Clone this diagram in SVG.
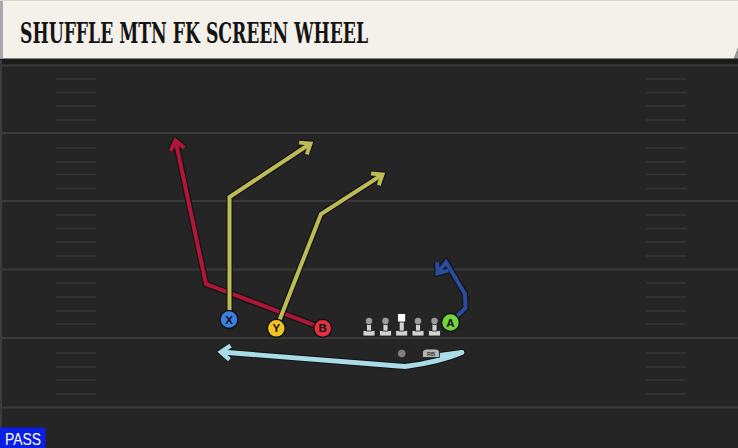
<svg xmlns="http://www.w3.org/2000/svg" width="738" height="448" viewBox="0 0 738 448">
<style>
.yard{stroke:#3a3a3a;stroke-width:2.2}
.hash{stroke:#363636;stroke-width:1.6}
.ol{fill:none;stroke:#141414;stroke-width:6.5;stroke-linejoin:miter;stroke-linecap:butt}
.rt{fill:none;stroke-width:4;stroke-linejoin:miter;stroke-linecap:butt}
.red{stroke:#b01639}
.yel{stroke:#bcbb55}
.blu{stroke:#2a4c9e}
.ltr{font-family:"Liberation Sans",Arial,sans-serif;font-weight:bold;font-size:11.5px;fill:#111;text-anchor:middle}
.pl{fill:#d2d2d2;stroke:#1a1a1a;stroke-width:0.8}
.ph{fill:#9c9c9c;stroke:#1a1a1a;stroke-width:0.8}
.pc{stroke:#141414;stroke-width:1.5}
</style>
<defs>
<marker id="mo" markerUnits="userSpaceOnUse" viewBox="-14 -11 18 22" refX="0" refY="0" markerWidth="18" markerHeight="22" orient="auto">
<path d="M-9,-7 L0,0 L-9,7" fill="none" stroke="#141414" stroke-width="6.5"/>
</marker>
<marker id="mr" markerUnits="userSpaceOnUse" viewBox="-14 -11 18 22" refX="0" refY="0" markerWidth="18" markerHeight="22" orient="auto">
<path d="M-9,-7 L0,0 L-9,7" fill="none" stroke="#b01639" stroke-width="4"/>
</marker>
<marker id="my" markerUnits="userSpaceOnUse" viewBox="-14 -11 18 22" refX="0" refY="0" markerWidth="18" markerHeight="22" orient="auto">
<path d="M-9,-7 L0,0 L-9,7" fill="none" stroke="#bcbb55" stroke-width="4"/>
</marker>
<marker id="mb" markerUnits="userSpaceOnUse" viewBox="-14 -11 18 22" refX="0" refY="0" markerWidth="18" markerHeight="22" orient="auto">
<path d="M-9,-7 L0,0 L-9,7" fill="none" stroke="#2a4c9e" stroke-width="4"/>
</marker>
<marker id="ml" markerUnits="userSpaceOnUse" viewBox="-14 -11 18 22" refX="0" refY="0" markerWidth="18" markerHeight="22" orient="auto">
<path d="M-9,-7 L0,0 L-9,7" fill="none" stroke="#a9dbe8" stroke-width="4.5"/>
</marker>
</defs>

<rect x="0" y="0" width="738" height="448" fill="#252525"/>
<rect x="0" y="58" width="738" height="6" fill="#1b1b1b"/>
<line x1="1" y1="60" x2="1" y2="448" stroke="#3c3c3c" stroke-width="2"/>

<g id="field">
<line class="yard" x1="0" y1="65.5" x2="738" y2="65.5"/>
<line class="yard" x1="0" y1="133" x2="738" y2="133"/>
<line class="yard" x1="0" y1="201" x2="738" y2="201"/>
<line class="yard" x1="0" y1="269.5" x2="738" y2="269.5"/>
<line class="yard" x1="0" y1="338" x2="738" y2="338"/>
<line class="yard" x1="0" y1="407.5" x2="738" y2="407.5"/>
<g class="hash">
<line x1="56" y1="79" x2="96" y2="79"/><line x1="56" y1="92.5" x2="96" y2="92.5"/><line x1="56" y1="106" x2="96" y2="106"/><line x1="56" y1="120" x2="96" y2="120"/>
<line x1="56" y1="148" x2="96" y2="148"/><line x1="56" y1="162" x2="96" y2="162"/><line x1="56" y1="174.5" x2="96" y2="174.5"/><line x1="56" y1="188.5" x2="96" y2="188.5"/>
<line x1="56" y1="215" x2="96" y2="215"/><line x1="56" y1="228.5" x2="96" y2="228.5"/><line x1="56" y1="242" x2="96" y2="242"/><line x1="56" y1="256" x2="96" y2="256"/>
<line x1="56" y1="283" x2="96" y2="283"/><line x1="56" y1="297" x2="96" y2="297"/><line x1="56" y1="311" x2="96" y2="311"/><line x1="56" y1="324" x2="96" y2="324"/>
<line x1="56" y1="353" x2="96" y2="353"/><line x1="56" y1="367" x2="96" y2="367"/><line x1="56" y1="380" x2="96" y2="380"/><line x1="56" y1="394" x2="96" y2="394"/>
<line x1="646" y1="79" x2="686" y2="79"/><line x1="646" y1="92.5" x2="686" y2="92.5"/><line x1="646" y1="106" x2="686" y2="106"/><line x1="646" y1="120" x2="686" y2="120"/>
<line x1="646" y1="148" x2="686" y2="148"/><line x1="646" y1="162" x2="686" y2="162"/><line x1="646" y1="174.5" x2="686" y2="174.5"/><line x1="646" y1="188.5" x2="686" y2="188.5"/>
<line x1="646" y1="215" x2="686" y2="215"/><line x1="646" y1="228.5" x2="686" y2="228.5"/><line x1="646" y1="242" x2="686" y2="242"/><line x1="646" y1="256" x2="686" y2="256"/>
<line x1="646" y1="283" x2="686" y2="283"/><line x1="646" y1="297" x2="686" y2="297"/><line x1="646" y1="311" x2="686" y2="311"/><line x1="646" y1="324" x2="686" y2="324"/>
<line x1="646" y1="353" x2="686" y2="353"/><line x1="646" y1="367" x2="686" y2="367"/><line x1="646" y1="380" x2="686" y2="380"/><line x1="646" y1="394" x2="686" y2="394"/>
</g>
</g>

<g id="header">
<path d="M0,0 H738 V48 L734,58.5 H0 Z" fill="#f4f1ea"/>
<rect x="0" y="0" width="3" height="58.5" fill="#a8a8a8"/>
<line x1="0" y1="0.5" x2="738" y2="0.5" stroke="#d8d6d0" stroke-width="1"/>
<path d="M738,48 L734,58.5 H738 Z" fill="#9a9a9a"/>
<text x="20" y="43" font-family="'DejaVu Serif',serif" font-weight="bold" font-size="27" fill="#141414" textLength="348" lengthAdjust="spacingAndGlyphs">SHUFFLE MTN FK SCREEN WHEEL</text>
</g>

<g id="connectors">
<g id="route-B">
<path class="ol" d="M322.7,328.3 L206,284 L175.5,140.5" marker-end="url(#mo)"/>
<path class="rt red" d="M322.7,328.3 L206,284 L175.5,140.5" marker-end="url(#mr)"/>
</g>
<g id="route-X">
<path class="ol" d="M229.5,320 L229.5,197 L310.5,143.5" marker-end="url(#mo)"/>
<path class="rt yel" d="M229.5,320 L229.5,197 L310.5,143.5" marker-end="url(#my)"/>
</g>
<g id="route-Y">
<path class="ol" d="M276.3,328.3 L321,214 L382.5,174.5" marker-end="url(#mo)"/>
<path class="rt yel" d="M276.3,328.3 L321,214 L382.5,174.5" marker-end="url(#my)"/>
</g>
<g id="route-A">
<path class="ol" d="M450.5,322.5 L465.5,308 L465,294 L446,262 L437.5,273.5" marker-end="url(#mo)"/>
<path class="rt blu" d="M450.5,322.5 L465.5,308 L465,294 L446,262 L437.5,273.5" marker-end="url(#mb)"/>
</g>
<g id="route-RB">
<path d="M436,356 L462,352.5 Q440,362 405,366.5 L221,352" fill="none" stroke="#141414" stroke-width="7" stroke-linejoin="round" marker-end="url(#mo)"/>
<path d="M436,356 L462,352.5 Q440,362 405,366.5 L221,352" fill="none" stroke="#a9dbe8" stroke-width="4.8" stroke-linejoin="round" marker-end="url(#ml)"/>
</g>
</g>

<g id="X"><circle class="pc" cx="229" cy="319.5" r="9" fill="#3c7fe0"/><text class="ltr" x="229" y="323.6">X</text></g>
<g id="Y"><circle class="pc" cx="276.3" cy="328.3" r="9" fill="#f2c21e"/><text class="ltr" x="276.3" y="332.4">Y</text></g>
<g id="B"><circle class="pc" cx="322.7" cy="328.3" r="9" fill="#e23140"/><text class="ltr" x="322.7" y="332.4">B</text></g>
<g id="A"><circle class="pc" cx="450.5" cy="322.5" r="9" fill="#72d43e"/><text class="ltr" x="450.5" y="326.6">A</text></g>

<g id="LT"><rect class="pl" x="363" y="330.5" width="12" height="5.5" rx="1"/><rect class="pl" x="366.5" y="322" width="5" height="9"/><circle class="ph" cx="369" cy="321" r="3.8"/></g>
<g id="LG"><rect class="pl" x="379.5" y="330.5" width="12" height="5.5" rx="1"/><rect class="pl" x="383" y="322" width="5" height="9"/><circle class="ph" cx="385.5" cy="321" r="3.8"/></g>
<g id="C"><rect class="pl" x="395.7" y="330.5" width="12" height="5.5" rx="1"/><rect class="pl" x="399.2" y="321" width="5" height="10"/><rect x="397.7" y="313.5" width="8" height="8.5" fill="#ffffff" stroke="#1a1a1a" stroke-width="0.8"/></g>
<g id="RG"><rect class="pl" x="412" y="330.5" width="12" height="5.5" rx="1"/><rect class="pl" x="415.5" y="322" width="5" height="9"/><circle class="ph" cx="418" cy="321" r="3.8"/></g>
<g id="RT"><rect class="pl" x="428.5" y="330.5" width="12" height="5.5" rx="1"/><rect class="pl" x="432" y="322" width="5" height="9"/><circle class="ph" cx="434.5" cy="321" r="3.8"/></g>

<g id="QB"><circle cx="401.7" cy="353.5" r="4.3" fill="#7e7e7e" stroke="#1a1a1a" stroke-width="0.8"/></g>
<g id="RB"><path d="M422.5,357.5 V353 Q422.5,349 427,349 H435 Q439.5,349 439.5,353 V357.5 Z" fill="#b4b4b4" stroke="#1a1a1a" stroke-width="0.8"/><text x="431" y="356" font-family="'Liberation Sans',Arial,sans-serif" font-weight="bold" font-size="5.5" fill="#333" text-anchor="middle">RB</text></g>

<g id="pass"><rect x="0" y="427.5" width="45.5" height="20.5" fill="#0a1fe6"/><text x="5" y="445" font-family="'Liberation Sans',Arial,sans-serif" font-size="16" fill="#ffffff" textLength="36" lengthAdjust="spacingAndGlyphs">PASS</text></g>
</svg>
